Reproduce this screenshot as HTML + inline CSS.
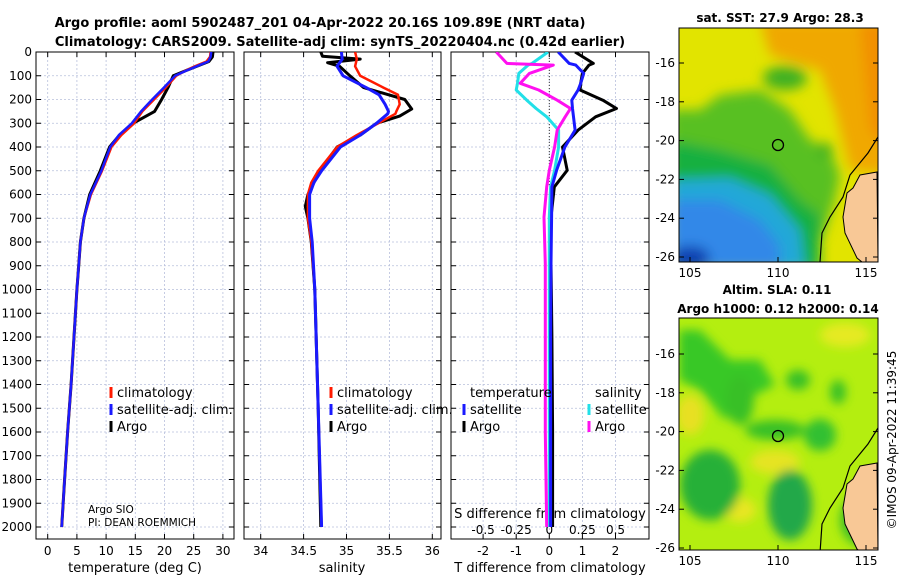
<!DOCTYPE html>
<html><head><meta charset="utf-8"><style>
html,body{margin:0;padding:0;background:#fff;}
svg{display:block;font-family:"DejaVu Sans","Liberation Sans",sans-serif;}
</style></head><body>
<svg id="fig" width="900" height="580" viewBox="0 0 900 580" xmlns="http://www.w3.org/2000/svg">
<defs>
<filter id="blur1" x="-20%" y="-20%" width="140%" height="140%"><feGaussianBlur stdDeviation="6"/></filter>
<filter id="blur2" x="-20%" y="-20%" width="140%" height="140%"><feGaussianBlur stdDeviation="5"/></filter>
<clipPath id="clipm1"><rect x="679" y="28" width="199" height="234"/></clipPath>
<clipPath id="clipm2"><rect x="679" y="318" width="199" height="232"/></clipPath>
<clipPath id="clipp1"><rect x="36" y="52" width="198" height="487"/></clipPath>
<clipPath id="clipp2"><rect x="244" y="52" width="197" height="487"/></clipPath>
<clipPath id="clipp3"><rect x="451" y="52" width="198" height="487"/></clipPath>
</defs>
<text x="320" y="27" text-anchor="middle" font-size="13" font-weight="bold">Argo profile: aoml 5902487_201 04-Apr-2022 20.16S 109.89E (NRT data)</text>
<text x="340" y="46" text-anchor="middle" font-size="13" font-weight="bold">Climatology: CARS2009. Satellite-adj clim: synTS_20220404.nc (0.42d earlier)</text>
<g id="panels"></g>

<!-- SST map -->
<text x="780" y="22" text-anchor="middle" font-size="12" font-weight="bold">sat. SST: 27.9 Argo: 28.3</text>
<g clip-path="url(#clipm1)">
<rect x="679" y="28" width="199" height="234" fill="#e2e400"/>
<g filter="url(#blur1)">
<polygon points="830,20 890,20 890,175 850,170 835,110 820,70 770,55 760,20" fill="#f0a800"/>
<polygon points="860,20 890,20 890,150 870,130" fill="#f29000"/>
<polygon points="670,110 700,110 720,95 760,90 790,110 810,140 830,150 840,175 835,200 825,230 810,270 670,270" fill="#58c020"/>
<polygon points="670,140 720,150 770,165 800,200 820,215 820,270 670,270" fill="#18b040"/>
<ellipse cx="785" cy="78" rx="22" ry="12" fill="#40b020"/>
<ellipse cx="825" cy="150" rx="8" ry="7" fill="#40b020"/>
<polygon points="670,180 730,178 770,195 800,230 805,270 670,270" fill="#20a8d8"/>
<polygon points="670,200 720,200 760,220 780,245 780,270 670,270" fill="#3088e8"/>
<ellipse cx="690" cy="258" rx="20" ry="12" fill="#1040b0"/>
</g>
<polygon points="877,172 860,175 853,188 847,193 843,217 845,233 857,258 862,262 878,262" fill="#f8c896" stroke="#000" stroke-width="1"/>
<polyline points="878,137 868,153 850,175 843,197 830,217 822,233 820,262" fill="none" stroke="#000" stroke-width="1.2"/>
<circle cx="778" cy="145" r="5.5" fill="none" stroke="#000" stroke-width="1.3"/>
</g>
<rect x="679" y="28" width="199" height="234" fill="none" stroke="#000" stroke-width="1"/>

<!-- SLA map -->
<text x="777" y="294" text-anchor="middle" font-size="12" font-weight="bold">Altim. SLA: 0.11</text>
<text x="778" y="313" text-anchor="middle" font-size="12" font-weight="bold">Argo h1000: 0.12 h2000: 0.14</text>
<g clip-path="url(#clipm2)">
<rect x="679" y="318" width="199" height="232" fill="#b4ee10"/>
<g filter="url(#blur2)">
<ellipse cx="845" cy="335" rx="25" ry="12" fill="#e6ea20"/>
<ellipse cx="690" cy="415" rx="14" ry="20" fill="#e8e020"/>
<ellipse cx="775" cy="462" rx="25" ry="12" fill="#e6e420"/>
<ellipse cx="740" cy="510" rx="16" ry="12" fill="#e8e620"/>
<polygon points="679,330 700,330 730,360 760,360 775,385 745,400 725,420 700,390 679,380" fill="#38c828"/>
<ellipse cx="710" cy="485" rx="30" ry="35" fill="#28b038"/>
<ellipse cx="775" cy="430" rx="30" ry="10" fill="#38c028"/>
<ellipse cx="820" cy="435" rx="16" ry="16" fill="#30c030"/>
<ellipse cx="790" cy="505" rx="22" ry="35" fill="#20a848"/>
<ellipse cx="798" cy="380" rx="12" ry="10" fill="#38c028"/>
<ellipse cx="838" cy="392" rx="8" ry="12" fill="#38c028"/>
<ellipse cx="740" cy="400" rx="14" ry="25" fill="#38c028"/>
<ellipse cx="860" cy="520" rx="20" ry="25" fill="#40c028"/>
</g>
<polygon points="877,463 860,466 853,479 847,484 843,508 845,524 857,549 862,553 878,553" fill="#f8c896" stroke="#000" stroke-width="1"/>
<polyline points="878,428 868,444 850,466 843,488 830,508 822,524 820,553" fill="none" stroke="#000" stroke-width="1.2"/>
<circle cx="778" cy="436" r="5.5" fill="none" stroke="#000" stroke-width="1.3"/>
</g>
<rect x="679" y="318" width="199" height="232" fill="none" stroke="#000" stroke-width="1"/>
<g id="mapaxes"></g>
<text transform="translate(896,440) rotate(-90)" text-anchor="middle" font-size="12">©IMOS 09-Apr-2022 11:39:45</text>
</svg>
<script>
// ---- data ----
const depthTicks = [0,100,200,300,400,500,600,700,800,900,1000,1100,1200,1300,1400,1500,1600,1700,1800,1900,2000];
const tempTicks = [0,5,10,15,20,25,30];
const salTicks = [34,34.5,35,35.5,36];
const salTickLabels = ["34","34.5","35","35.5","36"];
const diffTicks = [-2,-1,0,1,2];
const sdiffTicks = [-0.5,-0.25,0,0.25,0.5];
const sdiffTickLabels = ["-0.5","-0.25","0","0.25","0.5"];

const tDepths = [0,20,40,60,80,100,150,200,250,300,350,400,500,600,700,800,900,1000,1200,1400,1600,1800,2000];
const tArgo = [28.3,28.2,27.6,25.5,23.5,21.5,20.6,19.5,18.3,14.6,12.3,10.6,9.0,7.2,6.2,5.6,5.3,5.0,4.5,4.0,3.4,2.9,2.4];
const tClim = [27.9,27.8,27.2,25.2,23.5,22.0,20.2,18.2,16.2,14.8,12.6,10.9,9.3,7.4,6.2,5.6,5.3,5.0,4.5,4.0,3.4,2.9,2.4];
const tSat  = [28.0,27.9,27.5,25.5,23.6,21.8,19.9,17.9,16.0,14.4,12.2,10.7,9.2,7.3,6.2,5.6,5.3,5.0,4.5,4.0,3.4,2.9,2.4];

const sArgoDepths = [0,18,30,45,60,100,150,200,240,270,300,350,400,500,600,650,700,800,1000,1500,2000];
const sArgo = [34.70,34.72,35.16,34.78,34.92,35.04,35.20,35.68,35.76,35.62,35.35,35.16,34.89,34.69,34.55,34.52,34.55,34.59,34.63,34.67,34.70];
const sDepths = [0,30,60,100,150,180,220,250,260,300,350,400,500,550,600,700,800,1000,1500,2000];
const sClim = [35.10,35.12,35.10,35.16,35.43,35.60,35.62,35.58,35.57,35.37,35.12,34.89,34.67,34.59,34.55,34.55,34.59,34.63,34.67,34.71];
const sSat  = [34.94,34.95,34.89,34.96,35.23,35.38,35.45,35.49,35.48,35.35,35.16,34.93,34.71,34.62,34.57,34.57,34.60,34.63,34.67,34.71];

const dDepths = [0,48,55,90,132,160,203,238,273,329,400,498,568,695,892,1200,1600,2000];
const dTArgo = [0.78,1.33,1.2,1.0,0.95,0.93,1.62,2.03,1.4,0.87,0.4,0.54,0.15,0.05,0.05,0.08,0.1,0.1];
const dTSat  = [0.27,0.6,0.8,1.04,0.95,0.87,0.68,0.7,0.73,0.78,0.47,0.22,0.08,0.07,0.05,0.04,0.04,0.04];
const dSSat  = [-0.01,-0.13,-0.16,-0.23,-0.24,-0.25,-0.17,-0.1,-0.02,0.07,0.07,0.04,0.01,0.0,0.0,0.0,0.0,0.0];
const dSArgo = [-0.40,-0.32,0.03,-0.15,-0.22,-0.08,0.06,0.16,0.12,0.06,0.04,0.0,-0.02,-0.04,-0.03,-0.03,-0.03,-0.02];

const mapLonTicks = [105,110,115];
const mapLatTicks = [-16,-18,-20,-22,-24,-26];

// ---- axes ----
const NS='http://www.w3.org/2000/svg';
const TOP=52, BOT=539;
const yOf = d => 52 + d*0.2375;
const xT = v => 47.7 + v*5.84;
const xS = v => 260.7 + (v-34)*85.8;
const xD = v => 549.3 + v*33.1;
const xSD = v => 549.3 + v*132.4;
const root = document.getElementById('panels');
function el(tag, attrs, parent){const e=document.createElementNS(NS,tag);for(const k in attrs)e.setAttribute(k,attrs[k]);(parent||root).appendChild(e);return e;}
function txt(x,y,s,attrs,parent){const e=el('text',Object.assign({x:x,y:y,'font-size':12},attrs||{}),parent);e.textContent=s;return e;}

const panels=[{l:36,r:234,clip:'clipp1',name:'temperature-panel'},{l:244,r:441,clip:'clipp2',name:'salinity-panel'},{l:451,r:649,clip:'clipp3',name:'difference-panel'}];
const xGrids=[tempTicks.map(xT),salTicks.map(xS),diffTicks.map(xD)];
panels.forEach((p,i)=>{
  const g=el('g',{});
  
  
  depthTicks.forEach(d=>{const y=yOf(d);
    el('line',{x1:p.l,x2:p.r,y1:y,y2:y,stroke:'#b8c0dc','stroke-width':0.8,'stroke-dasharray':'2,2'},g);
    el('line',{x1:p.l,x2:p.l+5,y1:y,y2:y,stroke:'#000'},g);
    el('line',{x1:p.r-5,x2:p.r,y1:y,y2:y,stroke:'#000'},g);});
  xGrids[i].forEach(x=>{
    el('line',{x1:x,x2:x,y1:TOP,y2:BOT,stroke:'#b8c0dc','stroke-width':0.8,'stroke-dasharray':'2,2'},g);
    el('line',{x1:x,x2:x,y1:BOT-5,y2:BOT,stroke:'#000'},g);
    el('line',{x1:x,x2:x,y1:TOP,y2:TOP+5,stroke:'#000'},g);});
  el('rect',{x:p.l,y:TOP,width:p.r-p.l,height:BOT-TOP,fill:'none',stroke:'#000','stroke-width':1},g);
});
depthTicks.forEach(d=>{const t=txt(32,yOf(d)+4,String(d),{'text-anchor':'end'});
  
  });
tempTicks.forEach(v=>{const t=txt(xT(v),555,String(v),{'text-anchor':'middle'});
  
  });
salTicks.forEach((v,i)=>{const t=txt(xS(v),555,salTickLabels[i],{'text-anchor':'middle'});
  
  });
diffTicks.forEach(v=>{const t=txt(xD(v),555,String(v),{'text-anchor':'middle'});
  
  });
sdiffTicks.forEach((v,i)=>{const t=txt(xSD(v),534,sdiffTickLabels[i],{'text-anchor':'middle'});
  
  });
let a=txt(135,572,'temperature (deg C)',{'text-anchor':'middle','font-size':13});


a=txt(342,572,'salinity',{'text-anchor':'middle','font-size':13});


a=txt(550,572,'T difference from climatology',{'text-anchor':'middle','font-size':13});


a=txt(550,518,'S difference from climatology',{'text-anchor':'middle','font-size':13});


a=txt(88,513,'Argo SIO',{'font-size':10.5});


a=txt(88,526,'PI: DEAN ROEMMICH',{'font-size':10.5});



// zero line in diff panel
a=el('line',{x1:xD(0),x2:xD(0),y1:TOP,y2:yOf(560),stroke:'#333','stroke-width':1,'stroke-dasharray':'1,2'});



function series(xs, ds, fx, color, clip, name, w){
  const pts=xs.map((v,i)=>fx(v).toFixed(1)+','+yOf(ds[i]).toFixed(1)).join(' ');
  const pl=el('polyline',{points:pts,fill:'none',stroke:color,'stroke-width':w||2.5,'stroke-linejoin':'round','clip-path':'url(#'+clip+')'});
  
  
}
series(tArgo,tDepths,xT,'#000','clipp1','temp-argo-line',3);
series(tClim,tDepths,xT,'#ff1a00','clipp1','temp-climatology-line');
series(tSat,tDepths,xT,'#1a1aff','clipp1','temp-satellite-line');
series(sArgo,sArgoDepths,xS,'#000','clipp2','sal-argo-line',3);
series(sClim,sDepths,xS,'#ff1a00','clipp2','sal-climatology-line');
series(sSat,sDepths,xS,'#1a1aff','clipp2','sal-satellite-line',3);
series(dTArgo,dDepths,xD,'#000','clipp3','t-diff-argo-line',3);
series(dSSat,dDepths,xSD,'#22e0e8','clipp3','s-diff-satellite-line',3);
series(dSArgo,dDepths,xSD,'#ff10f0','clipp3','s-diff-argo-line',3);
series(dTSat,dDepths,xD,'#1a1aff','clipp3','t-diff-satellite-line',3);

function legend(x,y,color,label,name){
  const g=el('g',{});
  
  
  el('line',{x1:x,x2:x,y1:y-10,y2:y+1,stroke:color,'stroke-width':3},g);
  txt(x+6,y,label,{'font-size':13},g);
}
legend(111,397,'#ff1a00','climatology','legend-t-climatology');
legend(111,414,'#1a1aff','satellite-adj. clim.','legend-t-satellite');
legend(111,431,'#000','Argo','legend-t-argo');
legend(331,397,'#ff1a00','climatology','legend-s-climatology');
legend(331,414,'#1a1aff','satellite-adj. clim.','legend-s-satellite');
legend(331,431,'#000','Argo','legend-s-argo');
a=txt(470,397,'temperature',{'font-size':13});


a=txt(595,397,'salinity',{'font-size':13});


legend(464,414,'#1a1aff','satellite','legend-tdiff-satellite');
legend(464,431,'#000','Argo','legend-tdiff-argo');
legend(589,414,'#22e0e8','satellite','legend-sdiff-satellite');
legend(589,431,'#ff10f0','Argo','legend-sdiff-argo');

// map axes
const ma=document.getElementById('mapaxes');
const lonX = lon => 690 + (lon-105)*17.6;
[[28,262,63],[318,550,354]].forEach((m,mi)=>{
  const latY = lat => m[2] + (-16-lat)*19.4;
  mapLatTicks.forEach(lat=>{const y=latY(lat); if(y>m[1]+1) return;
    el('line',{x1:878,x2:873,y1:y,y2:y,stroke:'#000'},ma);
    el('line',{x1:679,x2:684,y1:y,y2:y,stroke:'#000'},ma);
    const t=txt(675,y+4,String(lat),{'text-anchor':'end'},ma);
    
    });
  mapLonTicks.forEach(lon=>{const x=lonX(lon);
    el('line',{x1:x,x2:x,y1:m[1],y2:m[1]-5,stroke:'#000'},ma);
    const t=txt(x,m[1]+15,String(lon),{'text-anchor':'middle'},ma);
    
    });
});
</script>
</body></html>
